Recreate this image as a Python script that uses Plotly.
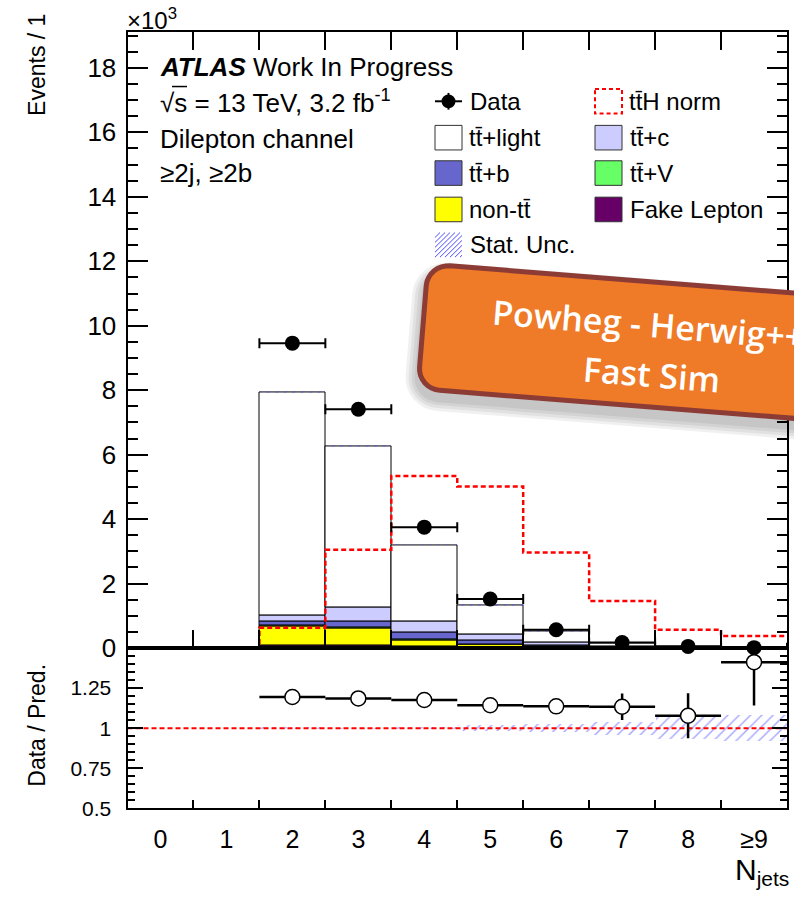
import math
import numpy as np
import plotly.graph_objects as go

W, H = 794, 900

# ---------------- data ----------------
bin_labels = ["0", "1", "2", "3", "4", "5", "6", "7", "8", "≥9"]
bin_centers = list(range(10))

# predicted events per jet-multiplicity bin, stacked bottom -> top
fake_lepton = [0, 0, 70, 80, 50, 30, 8, 2, 0.5, 0.1]
non_tt = [0, 0, 600, 520, 200, 70, 22, 6, 1.5, 0.3]
tt_v = [0, 0, 20, 30, 25, 15, 8, 3, 1, 0.2]
tt_b = [0, 0, 120, 200, 205, 135, 50, 17, 6, 1.2]
tt_c = [0, 0, 210, 440, 330, 180, 75, 25, 8, 1.6]
tt_light = [0, 0, 6900, 4980, 2380, 900, 337, 97, 29.4, 5.1]
stat_unc = [0, 0, 32, 25, 14, 25, 13, 6, 3.2, 0.7]

tth_norm = [0, 0, 630, 3050, 5340, 5010, 2960, 1460, 570, 370]
data = [0, 0, 9460, 7410, 3750, 1520, 568, 170, 50, 12]
ratio_err = [0, 0, 0.012, 0.014, 0.02, 0.03, 0.045, 0.083, 0.14, 0.27]

components = [
    ("Fake Lepton", fake_lepton, "#660066"),
    ("non-tt̄", non_tt, "#FFFF00"),
    ("tt̄+V", tt_v, "#66FF66"),
    ("tt̄+b", tt_b, "#6666CC"),
    ("tt̄+c", tt_c, "#CCCCFF"),
    ("tt̄+light", tt_light, "#FFFFFF"),
]

SCALE = 1000.0  # axis shows events in units of 10^3
FONT = "Liberation Sans, Arial, Helvetica, sans-serif"


def P(x, y):
    """figure pixel -> paper coordinates (margins are zero)"""
    return x / W, 1 - y / H


fig = go.Figure()

# ---------------- main panel: stacked prediction ----------------
base = np.zeros(10)
for name, vals, col in components:
    v = np.array(vals, dtype=float)
    fig.add_trace(go.Bar(
        x=bin_centers, y=v / SCALE, base=base / SCALE, width=1.0,
        marker=dict(color=col, line=dict(color="black", width=1)),
        name=name, showlegend=False, xaxis="x", yaxis="y"))
    base = base + v
total = base.copy()

unc = np.array(stat_unc, dtype=float)
fig.add_trace(go.Bar(
    x=bin_centers, y=2 * unc / SCALE, base=(total - unc) / SCALE, width=1.0,
    marker=dict(color="rgba(0,0,0,0)", line=dict(width=0),
                pattern=dict(shape="/", size=6, solidity=0.25,
                             fgcolor="#4d4dff", bgcolor="rgba(0,0,0,0)")),
    showlegend=False, xaxis="x", yaxis="y"))

# ttH normalised shape (step outline)
edges = [c - 0.5 for c in bin_centers] + [bin_centers[-1] + 0.5]
tth = np.array(tth_norm, dtype=float) / SCALE
fig.add_trace(go.Scatter(
    x=edges, y=list(tth) + [tth[-1]], mode="lines", line_shape="hv",
    line=dict(color="#ff0000", width=2.5, dash="5px,3px"),
    showlegend=False, xaxis="x", yaxis="y"))

# data points
d = np.array(data, dtype=float)
sel = d > 0
fig.add_trace(go.Scatter(
    x=np.array(bin_centers)[sel], y=d[sel] / SCALE, mode="markers",
    marker=dict(color="black", size=15),
    error_x=dict(type="constant", value=0.5, color="black", thickness=2, width=5),
    cliponaxis=False, showlegend=False, xaxis="x", yaxis="y"))

# ---------------- ratio panel ----------------
has_pred = total > 0
rel = np.where(has_pred, unc / np.where(has_pred, total, 1), np.nan)
fig.add_trace(go.Bar(
    x=np.array(bin_centers)[has_pred], y=2 * rel[has_pred], base=1 - rel[has_pred],
    width=1.0,
    marker=dict(color="rgba(0,0,0,0)", line=dict(width=0),
                pattern=dict(shape="/", size=8, solidity=0.18,
                             fgcolor="#4d4dff", bgcolor="rgba(0,0,0,0)")),
    showlegend=False, xaxis="x2", yaxis="y2"))

fig.add_trace(go.Scatter(
    x=[edges[0], edges[-1]], y=[1, 1], mode="lines",
    line=dict(color="#ff0000", width=2, dash="5px,3px"),
    showlegend=False, xaxis="x2", yaxis="y2"))

ratio = d[has_pred] / total[has_pred]
fig.add_trace(go.Scatter(
    x=np.array(bin_centers)[has_pred], y=ratio, mode="markers",
    marker=dict(color="white", size=15, line=dict(color="black", width=1.5)),
    error_x=dict(type="constant", value=0.5, color="black", thickness=2.5, width=0),
    error_y=dict(type="data", array=np.array(ratio_err)[has_pred], color="black",
                 thickness=2.5, width=0),
    showlegend=False, xaxis="x2", yaxis="y2"))

# ---------------- axes ----------------
x_dom = [127.5 / W, 787 / W]
main_dom = [1 - 659 / H, 1 - 33 / H]
ratio_dom = [1 - 822 / H, 1 - 659 / H]
axis_common = dict(showline=True, linecolor="black", linewidth=2, showgrid=False,
                   zeroline=False, tickcolor="black", tickwidth=1.5)

fig.update_layout(
    width=W, height=H, margin=dict(l=0, r=0, t=0, b=0),
    paper_bgcolor="white", plot_bgcolor="rgba(0,0,0,0)",
    barmode="overlay", bargap=0, showlegend=False,
    font=dict(family=FONT, color="black"),
    xaxis=dict(domain=x_dom, anchor="y", range=[-0.5, 9.5],
               tickmode="array", tickvals=edges, ticks="inside", ticklen=18,
               showticklabels=False, mirror="ticks", **axis_common),
    yaxis=dict(domain=main_dom, anchor="x", range=[0, 19.1],
               tickmode="linear", tick0=0, dtick=2, ticks="inside", ticklen=20,
               mirror="ticks", tickfont=dict(size=26), ticklabelstandoff=4,
               minor=dict(dtick=0.5, ticks="inside", ticklen=10,
                          tickcolor="black", tickwidth=1.5),
               **axis_common),
    xaxis2=dict(domain=x_dom, anchor="y2", range=[-0.5, 9.5],
                tickmode="array", tickvals=bin_centers, ticktext=bin_labels,
                ticks="inside", ticklen=0, mirror=True, tickfont=dict(size=25),
                ticklabelstandoff=8,
                minor=dict(tickmode="array", tickvals=edges, ticks="inside",
                           ticklen=8, tickcolor="black", tickwidth=1.5),
                **axis_common),
    yaxis2=dict(domain=ratio_dom, anchor="x2", range=[0.5, 1.5],
                tickmode="array", tickvals=[0.5, 0.75, 1, 1.25],
                ticktext=["0.5", "0.75", "1", "1.25"],
                ticks="inside", ticklen=15, mirror="ticks",
                tickfont=dict(size=21), ticklabelstandoff=10,
                minor=dict(dtick=0.05, tick0=0.5, ticks="inside", ticklen=7,
                           tickcolor="black", tickwidth=1.5),
                **axis_common),
)

shapes = []
annotations = []


def text(x, y, s, size, xanchor="left", yanchor="middle", angle=0, **kw):
    px, py = P(x, y)
    annotations.append(dict(x=px, y=py, xref="paper", yref="paper", text=s,
                            showarrow=False, xanchor=xanchor, yanchor=yanchor,
                            textangle=angle, font=dict(size=size, family=FONT,
                                                       color=kw.pop("color", "black")),
                            **kw))


def rect(x0, y0, x1, y1, fill, line_col="#333333", lw=1, dash=None):
    a, b = P(x0, y0)
    c, e = P(x1, y1)
    ln = dict(color=line_col, width=lw)
    if dash:
        ln["dash"] = dash
    shapes.append(dict(type="rect", xref="paper", yref="paper", x0=a, y0=b, x1=c, y1=e,
                       fillcolor=fill, line=ln, layer="above"))


def seg(x0, y0, x1, y1, col="black", lw=2):
    a, b = P(x0, y0)
    c, e = P(x1, y1)
    shapes.append(dict(type="line", xref="paper", yref="paper", x0=a, y0=b, x1=c, y1=e,
                       line=dict(color=col, width=lw), layer="above"))


# axis titles and scale factor
text(37, 66, "Events / 1", 23, xanchor="center", angle=-90)
text(37, 738, "Data / Pred.", 23, xanchor="center", angle=-90)
text(791, 886, "N<sub>jets</sub>", 30, xanchor="right")
text(125, 19, "×10<sup>3</sup>", 24)

# labels in the top-left
text(158, 68, "<b><i>ATLAS</i></b> Work In Progress", 26)
text(158, 103, "√s = 13 TeV, 3.2 fb<sup>-1</sup>", 26)
seg(172, 88, 187, 88, lw=1.5)
text(158, 141, "Dilepton channel", 26)
text(158, 176, "≥2j, ≥2b", 26)

# legend
col1_box, col2_box = (435, 462), (595, 622)
rows = [103, 140, 176, 213, 249]
hb = 12.5

# data glyph
cx, cy = 448.5, rows[0]
seg(435, cy, 462, cy, lw=2)
seg(cx, cy - 8.5, cx, cy + 8.5, lw=2)
a, b = P(cx - 7, cy - 7)
c, e = P(cx + 7, cy + 7)
shapes.append(dict(type="circle", xref="paper", yref="paper", x0=a, y0=b, x1=c, y1=e,
                   fillcolor="black", line=dict(color="black", width=0), layer="above"))
text(468, rows[0], "Data", 24)

rect(col2_box[0], rows[0] - hb, col2_box[1], rows[0] + hb, "rgba(0,0,0,0)",
     line_col="#ff0000", lw=2, dash="4px,3px")
text(627, rows[0], "tt̄H norm", 24)

legend_boxes = [
    (col1_box, rows[1], "#FFFFFF", "tt̄+light"),
    (col2_box, rows[1], "#CCCCFF", "tt̄+c"),
    (col1_box, rows[2], "#6666CC", "tt̄+b"),
    (col2_box, rows[2], "#66FF66", "tt̄+V"),
    (col1_box, rows[3], "#FFFF00", "non-tt̄"),
    (col2_box, rows[3], "#660066", "Fake Lepton"),
]
for (bx0, bx1), ry, col, lab in legend_boxes:
    rect(bx0, ry - hb, bx1, ry + hb, col)
    text(bx1 + 5.5, ry, lab, 24)

# hatched glyph for the statistical uncertainty
hx0, hx1 = col1_box
hy0, hy1 = rows[4] - hb, rows[4] + hb
bw, bh = hx1 - hx0, hy1 - hy0
c0 = -bh
while c0 < bw:
    s0, s1 = max(0.0, -c0), min(bh, bw - c0)
    if s1 > s0:
        seg(hx0 + c0 + s0, hy1 - s0, hx0 + c0 + s1, hy1 - s1, col="#4d4dff", lw=1)
    c0 += 5
text(468, rows[4], "Stat. Unc.", 24)

# ---------------- orange banner ----------------
theta = math.radians(4.6)
ox, oy = 428, 268.6
BW, BH, R = 440, 127, 22


def rounded_path(expand=0.0, dx=0.0, dy=0.0):
    pts = []
    r = R + expand
    x0, y0, x1, y1 = -expand, -expand, BW + expand, BH + expand
    corners = [(x1 - r, y0 + r, -90, 0), (x1 - r, y1 - r, 0, 90),
               (x0 + r, y1 - r, 90, 180), (x0 + r, y0 + r, 180, 270)]
    for ccx, ccy, a0, a1 in corners:
        for k in range(9):
            ang = math.radians(a0 + (a1 - a0) * k / 8)
            pts.append((ccx + r * math.cos(ang), ccy + r * math.sin(ang)))
    out = []
    for u, v in pts:
        X = ox + dx + u * math.cos(theta) - v * math.sin(theta)
        Y = oy + dy + u * math.sin(theta) + v * math.cos(theta)
        px, py = P(X, Y)
        out.append(f"{px:.5f},{py:.5f}")
    return "M " + " L ".join(out) + " Z"


for e in [12, 9, 6, 3]:
    shapes.append(dict(type="path", xref="paper", yref="paper",
                       path=rounded_path(expand=e, dx=-2, dy=9),
                       fillcolor="rgba(0,0,0,0.06)", line=dict(width=0), layer="above"))
shapes.append(dict(type="path", xref="paper", yref="paper", path=rounded_path(),
                   fillcolor="#EF7A28", line=dict(color="#8C3B35", width=5),
                   layer="above"))

for (tx, ty, s) in [(648, 329, "Powheg - Herwig++"), (651, 380, "Fast Sim")]:
    px, py = P(tx, ty)
    annotations.append(dict(x=px, y=py, xref="paper", yref="paper", text=s,
                            showarrow=False, xanchor="center", yanchor="middle",
                            textangle=4.6,
                            font=dict(size=34, family="Open Sans, sans-serif",
                                      color="white", weight=600)))

fig.update_layout(shapes=shapes, annotations=annotations)
fig.write_html("out.html")
